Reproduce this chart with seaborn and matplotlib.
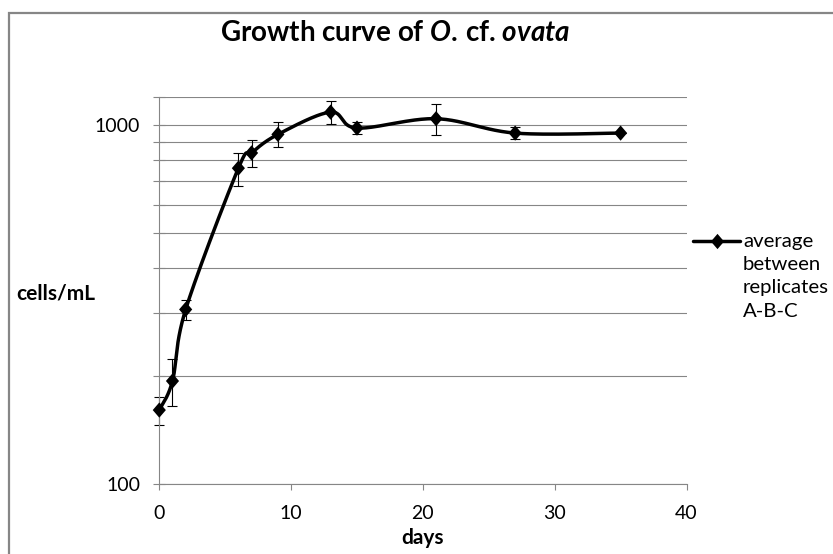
import numpy as np
import pandas as pd
import matplotlib
matplotlib.use("Agg")
import matplotlib.pyplot as plt
import seaborn as sns
from matplotlib.lines import Line2D
from matplotlib.patches import Rectangle
from matplotlib.ticker import FixedLocator, FuncFormatter, NullFormatter

# Mean cell density of the three replicates and its standard deviation
days = [0, 1, 2, 6, 7, 9, 13, 15, 21, 27, 35]
cells_per_ml = [161, 194, 307, 760, 838, 944, 1089, 983, 1044, 952, 952]
std_dev = [14.5, 29, 20, 80, 74, 75, 77, 38, 105, 37, 0]

x_ticks = [0, 10, 20, 30, 40]
y_major = [100, 1000]
y_minor = [200, 300, 400, 500, 600, 700, 800, 900, 1200]
series_label = "average\nbetween\nreplicates\nA-B-C"

GRID = "#868686"

sns.set_theme(style="white")
plt.rcParams["font.family"] = ["Lato", "DejaVu Sans"]
plt.rcParams["mathtext.fontset"] = "custom"
plt.rcParams["mathtext.rm"] = "Lato:bold"
plt.rcParams["mathtext.it"] = "Lato:italic:bold"
plt.rcParams["mathtext.bf"] = "Lato:bold"


def smooth_curve(x, y, n=40):
    """Bezier smoothing (Catmull-Rom tangents) in x / log10(y) space."""
    pts = np.column_stack([np.asarray(x, float), np.log10(np.asarray(y, float))])
    segs = []
    last = len(pts) - 1
    t = np.linspace(0, 1, n)[:, None]
    for i in range(last):
        p0 = pts[max(i - 1, 0)]
        p1 = pts[i]
        p2 = pts[i + 1]
        p3 = pts[min(i + 2, last)]
        c1 = p1 + (p2 - p0) / 6.0
        c2 = p2 - (p3 - p1) / 6.0
        seg = ((1 - t) ** 3) * p1 + 3 * ((1 - t) ** 2) * t * c1 \
            + 3 * (1 - t) * (t ** 2) * c2 + (t ** 3) * p2
        segs.append(seg if i == 0 else seg[1:])
    curve = np.vstack(segs)
    return pd.DataFrame({"day": curve[:, 0], "cells": 10 ** curve[:, 1]})


df = pd.DataFrame({"day": days, "cells": cells_per_ml, "sd": std_dev})
curve = smooth_curve(days, cells_per_ml)

W, H = 833, 554
fig = plt.figure(figsize=(W / 100, H / 100), dpi=100)
fig.patch.set_facecolor("white")

# chart frame
fig.add_artist(Rectangle((9 / W, -0.2), 1.2, 1 - 13 / H + 0.2,
                         transform=fig.transFigure, fill=False,
                         edgecolor=GRID, linewidth=1.6, zorder=0))

left, right, top, bottom = 159.3, 686.5, 97.0, 484.3
ax = fig.add_axes([left / W, 1 - bottom / H, (right - left) / W, (bottom - top) / H])
ax.set_facecolor("white")

diamond = [(0, 1), (0.86, 0), (0, -1), (-0.86, 0), (0, 1)]

sns.lineplot(data=curve, x="day", y="cells", sort=False, estimator=None,
             color="black", linewidth=2.5, ax=ax, zorder=3, clip_on=False)
ax.errorbar(df["day"], df["cells"], yerr=df["sd"], fmt="none", ecolor="black",
            elinewidth=0.8, capsize=3.8, capthick=0.8, zorder=2, clip_on=False)
sns.scatterplot(data=df, x="day", y="cells", marker=diamond, s=11 ** 2,
                color="black", edgecolor="none", linewidth=0, ax=ax, zorder=4,
                clip_on=False)

ax.set_yscale("log")
ax.set_xlim(0, 40)
ax.set_ylim(100, 1200)
ax.xaxis.set_major_locator(FixedLocator(x_ticks))
ax.yaxis.set_major_locator(FixedLocator(y_major))
ax.yaxis.set_minor_locator(FixedLocator(y_minor))
ax.yaxis.set_major_formatter(FuncFormatter(lambda v, _: f"{v:.0f}"))
ax.yaxis.set_minor_formatter(NullFormatter())

ax.grid(False)
ax.yaxis.grid(True, which="both", color=GRID, linewidth=0.8)
ax.set_axisbelow(True)

for side in ("top", "right"):
    ax.spines[side].set_visible(False)
for side in ("left", "bottom"):
    ax.spines[side].set_color(GRID)
    ax.spines[side].set_linewidth(0.8)

ax.tick_params(axis="x", which="major", direction="out", length=4.5, width=0.8,
               color=GRID, pad=10.5, labelsize=14, labelcolor="black", bottom=True)
ax.tick_params(axis="y", which="both", direction="inout", length=8.5, width=0.8,
               color=GRID, pad=9.5, labelsize=14, labelcolor="black", left=True)
ax.set_xlabel("")
ax.set_ylabel("")

fig.text(16.5 / W, 1 - 294 / H, "cells/mL", ha="left", va="center",
         fontsize=15, fontweight="bold", color="black")
fig.text(423 / W, 1 - 538 / H, "days", ha="center", va="center",
         fontsize=15, fontweight="bold", color="black")
fig.text(395 / W, 1 - 33 / H,
         r"Growth curve of $\mathit{O.}\,$cf. $\mathit{ovata}$",
         ha="center", va="center", fontsize=20, fontweight="bold", color="black")

# series key
key_y = 1 - 241 / H
fig.add_artist(Line2D([692.7 / W, 740 / W], [key_y, key_y], transform=fig.transFigure,
                      color="black", linewidth=2.5))
fig.add_artist(Line2D([716.5 / W], [key_y], transform=fig.transFigure, color="black",
                      marker=diamond, markersize=11, markeredgewidth=0, linestyle="none"))
for i, line in enumerate(series_label.split("\n")):
    fig.text(743 / W, 1 - (241 + 23.5 * i) / H, line, ha="left", va="center",
             fontsize=14.7, color="black")

fig.savefig("out.png", dpi=100)
